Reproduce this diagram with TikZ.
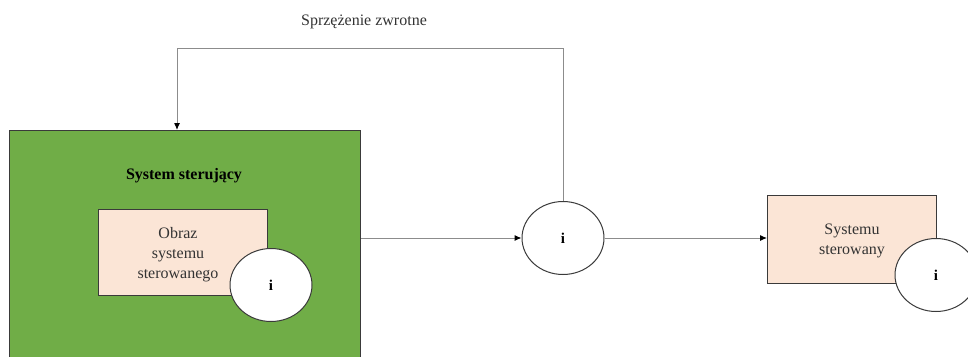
\documentclass[tikz,border=0pt]{standalone}
\usepackage{fontspec}
\setmainfont{Liberation Serif}
\usepackage{tikz}
\definecolor{ctrlgreen}{HTML}{70AD47}
\definecolor{peach}{HTML}{FBE5D6}
\definecolor{linegray}{HTML}{8C8C8C}
\definecolor{edgegray}{HTML}{3A3A3A}
\usetikzlibrary{arrows.meta, shapes.geometric}
\tikzset{
  sysbox/.style = {draw = edgegray, line width = 1.2pt, fill = peach, align = center, text = black!80},
  infocirc/.style = {draw = edgegray, line width = 1pt, ellipse, fill = white, minimum width = 82pt, minimum height = 73pt, font = \fontsize{15}{18}\selectfont\bfseries},
  flow/.style = {draw = linegray, line width = 1pt, -{Latex[length = 7pt, width = 6pt, color = black]}}
}

\begin{document}
\begin{tikzpicture}[x = 1pt, y = -1pt, font = \fontsize{16}{20}\selectfont]
			\clip (0,0) rectangle (968,356);
			\node[draw = edgegray, line width = 1.2pt, fill = ctrlgreen, anchor = north west, minimum width = 351pt, minimum height = 240pt] (ctrl) at (9,130) {};
			\node[font = \fontsize{16}{20}\selectfont\bfseries] (ctrltitle) at (184,176) {System sterujący};
			\node[sysbox, anchor = north west, minimum width = 169pt, minimum height = 86pt] (image) at (98,209) {};
			\node[text = black!80, align = center] (imagetext) at (178,255) {Obraz\\systemu\\sterowanego};
			\node[infocirc] (i1) at (271,285) {i};
			
			\node[infocirc] (mid) at (563,238) {i};
			\node[sysbox, anchor = north west, minimum width = 169pt, minimum height = 88pt] (plant) at (767,195) {};
			\node[text = black!80, align = center] (planttext) at (852,241) {Systemu\\sterowany};
			\node[infocirc] (i2) at (936,275) {i};
			
			\coordinate (fb) at (177,48);
			\node[text = black!80] (fblabel) at (364,22) {Sprzężenie zwrotne};
			
			\draw[flow] (ctrl.east |- mid.west) -- (mid.west);
			\draw[flow] (mid.east) -- (plant.west |- mid.east);
			\draw[flow] (mid.north) |- (fb) -- (fb |- ctrl.north);
			
			\end{tikzpicture}
\end{document}
